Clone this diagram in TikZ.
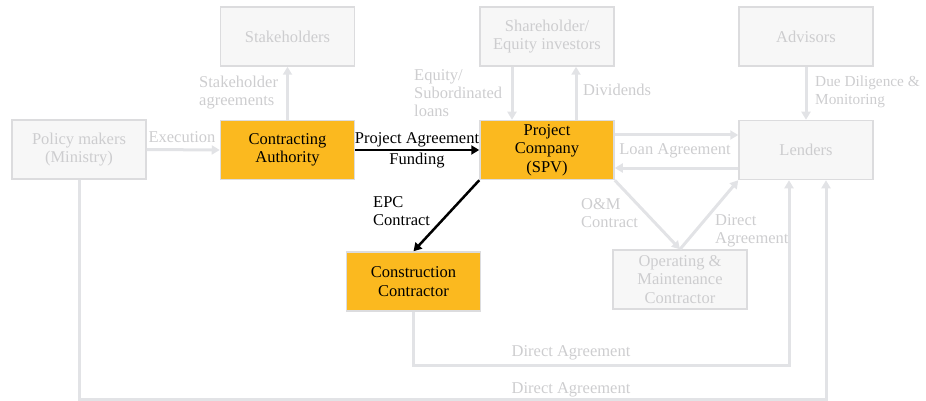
\documentclass[tikz,border=0pt]{standalone}
\usepackage{fontspec}
\setmainfont{Liberation Serif}
\usetikzlibrary{arrows.meta}
\definecolor{boxfill}{HTML}{F7F7F7}
\definecolor{boxline}{HTML}{DCDCDE}
\definecolor{lineg}{HTML}{E2E3E6}
\definecolor{textg}{HTML}{CDCDCF}
\definecolor{orangef}{HTML}{FBB91F}
\tikzset{
  box/.style={draw=boxline, line width=1.5pt, fill=boxfill, minimum width=134pt, minimum height=59pt, align=center, text=textg, inner sep=1pt, font=\fontsize{16.5}{18.5}\selectfont},
  obox/.style={box, fill=orangef, text=black},
  garrow/.style={draw=lineg, line width=3pt, -{Triangle[length=8pt,width=9pt]}},
  barrow/.style={draw=black, line width=2.5pt, -{Triangle[length=8pt,width=9pt]}},
  gline/.style={draw=lineg, line width=3pt},
  glabel/.style={text=textg, align=left, inner sep=0pt, font=\fontsize{16.5}{18}\selectfont},
  blabel/.style={text=black, align=left, inner sep=0pt, font=\fontsize{16.5}{18}\selectfont}
}
\begin{document}
\begin{tikzpicture}[x=1pt,y=-1pt]
\useasboundingbox (0,0) rectangle (926,401);
% nodes
\node[box]  (stake)  at (287.5,36.5) {Stakeholders};
\node[box]  (policy) at (79,149.5)   {Policy makers\\(Ministry)};
\node[obox] (ca)     at (287.5,150)  {Contracting\\Authority};
\node[box]  (share)  at (547,36.5)   {Shareholder/\\Equity investors};
\node[box]  (adv)    at (806,36.5)   {Advisors};
\node[obox] (pc)     at (547,150)    {Project\\Company\\(SPV)};
\node[box]  (lend)   at (806,150)    {Lenders};
\node[obox] (cc)     at (413.5,281.5){Construction\\Contractor};
\node[box]  (om)     at (680,279.5)  {Operating \&\\Maintenance\\Contractor};
% connectors
\draw[garrow] (policy.east) -- (ca.west);
\draw[garrow] (ca.north) -- (stake.south);
\draw[garrow] ([xshift=-35pt]share.south) -- ([xshift=-35pt]pc.north);
\draw[garrow] ([xshift=29pt]pc.north) -- ([xshift=29pt]share.south);
\draw[garrow] (adv.south) -- (lend.north);
\draw[garrow] ([yshift=15pt]pc.east) -- ([yshift=15pt]lend.west);
\draw[garrow] ([yshift=-18pt]lend.west) -- ([yshift=-18pt]pc.east);
\draw[garrow] (pc.south east) -- (om.north);
\draw[garrow] (om.north) -- (lend.south west);
\draw[garrow] (cc.south) -- ++(0,54) -| ([xshift=-17pt]lend.south);
\draw[garrow] (policy.south) -- ++(0,219.5) -| ([xshift=20pt]lend.south);
\draw[barrow] (ca.east) -- (pc.west);
\draw[barrow] (pc.south west) -- (cc.north);
% labels
\node[glabel] (lexec) at (182,137) {Execution};
\node[glabel, anchor=west] (lsa) at (199,93) {Stakeholder\\agreements};
\node[blabel] (lpa) at (417,140) {Project Agreement};
\node[blabel] (lfund) at (417,161) {Funding};
\node[glabel, anchor=west] (leq) at (414,93) {Equity/\\Subordinated\\loans};
\node[glabel, anchor=west] (ldiv) at (583,90) {Dividends};
\node[glabel, anchor=west, font=\fontsize{15.3}{18}\selectfont] (ldd) at (815,92) {Due Diligence \&\\Monitoring};
\node[glabel] (lloan) at (675,151) {Loan Agreement};
\node[glabel, anchor=west] (lom) at (581,213) {O\&M\\Contract};
\node[glabel, anchor=west] (lda) at (715,231) {Direct\\Agreement};
\node[blabel, anchor=west] (lepc) at (373,211) {EPC\\Contract};
\node[glabel] (lda2) at (571,353) {Direct Agreement};
\node[glabel] (lda3) at (571,390) {Direct Agreement};
\end{tikzpicture}
\end{document}
